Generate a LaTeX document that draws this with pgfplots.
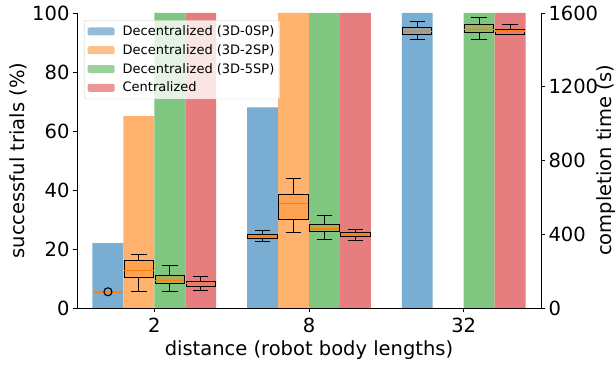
\documentclass[border=0pt]{standalone}
\usepackage{pgfplots}
\pgfplotsset{compat=1.18}
\usepackage{fontspec}
\setmainfont{DejaVu Sans}
\definecolor{tabBlue}{HTML}{1F77B4}
\definecolor{tabOrange}{HTML}{FF7F0E}
\definecolor{tabGreen}{HTML}{2CA02C}
\definecolor{tabRed}{HTML}{D62728}
% box plot: position, lower whisker, lower quartile, median, upper quartile, upper whisker
\newcommand\BP[6]{%
  \pgfmathsetmacro\bxl{#1-0.095}\pgfmathsetmacro\bxr{#1+0.095}%
  \pgfmathsetmacro\cpl{#1-0.05}\pgfmathsetmacro\cpr{#1+0.05}%
  \addplot[draw=black, line width=1pt, fill=tabOrange, fill opacity=0.3, line join=miter]
    coordinates {(\bxl,#3) (\bxr,#3) (\bxr,#5) (\bxl,#5) (\bxl,#3)};
  \addplot[black, line width=1pt] coordinates {(#1,#5) (#1,#6)};
  \addplot[black, line width=1pt] coordinates {(#1,#3) (#1,#2)};
  \addplot[black, line width=1pt] coordinates {(\cpl,#6) (\cpr,#6)};
  \addplot[black, line width=1pt] coordinates {(\cpl,#2) (\cpr,#2)};
  \addplot[tabOrange, line width=1.2pt] coordinates {(\bxl,#4) (\bxr,#4)};
}
\begin{document}
\begin{tikzpicture}
\pgfplotsset{
  common/.style={
    at={(0pt,0pt)}, anchor=south west, scale only axis,
    width=464pt, height=295pt,
    xmin=-0.5, xmax=2.5,
    tick align=outside, major tick length=4pt,
    tick style={black, line width=0.8pt},
    axis line style={-, line width=0.8pt, black},
    /pgf/number format/assume math mode=true,
    /pgf/number format/1000 sep={},
    tick label style={font=\fontsize{19.5}{21}\selectfont, black},
  },
}
\begin{axis}[common,
  ymin=0, ymax=100,
  axis x line*=bottom, axis y line*=left,
  xtick pos=bottom, ytick pos=left,
  xtick={0,1,2}, xticklabels={2,8,32},
  xticklabel style={yshift=-2pt},
  ytick={0,20,40,60,80,100},
  xlabel={distance (robot body lengths)},
  ylabel={successful trials (\%)},
  every axis x label/.style={at={(axis description cs:0.5,-0.1424)}, anchor=center, font=\fontsize{19.5}{21}\selectfont},
  every axis y label/.style={at={(axis description cs:-0.127,0.5)}, rotate=90, anchor=center, font=\fontsize{19.5}{21}\selectfont},
  legend style={at={(0.015,0.976)}, anchor=north west,
    font=\fontsize{13}{14.5}\selectfont, draw=black!20, fill=white,
    fill opacity=0.8, text opacity=1, rounded corners=2pt,
    row sep=3.4pt, inner sep=3.5pt,
    /tikz/every odd column/.append style={column sep=6pt}},
  legend cell align=left,
  legend image code/.code={\fill[#1] (0pt,-4pt) rectangle (27pt,4pt);},
]
\addplot[ybar, bar width=0.2, bar shift=0pt, fill=tabBlue!60!white, draw=none]
  coordinates {(-0.3,22) (0.7,68) (1.7,100)};
\addlegendentry{Decentralized (3D-0SP)}
\addplot[ybar, bar width=0.2, bar shift=0pt, fill=tabOrange!60!white, draw=none]
  coordinates {(-0.1,65) (0.9,100) (1.9,0)};
\addlegendentry{Decentralized (3D-2SP)}
\addplot[ybar, bar width=0.2, bar shift=0pt, fill=tabGreen!60!white, draw=none]
  coordinates {(0.1,100) (1.1,100) (2.1,100)};
\addlegendentry{Decentralized (3D-5SP)}
\addplot[ybar, bar width=0.2, bar shift=0pt, fill=tabRed!60!white, draw=none]
  coordinates {(0.3,100) (1.3,100) (2.3,100)};
\addlegendentry{Centralized}
\end{axis}
\begin{axis}[common,
  ymin=0, ymax=1600,
  axis x line=none, axis y line*=right,
  ytick pos=right,
  ytick={0,400,800,1200,1600},
  ylabel={completion time (s)},
  every axis y label/.style={at={(axis description cs:1.1401,0.5)}, rotate=90, anchor=center, font=\fontsize{19.5}{21}\selectfont},
]
% distance 2
\BP{-0.1}{88}{167}{202}{255}{291}
\BP{0.1}{92}{134}{148}{175}{232}
\BP{0.3}{94}{118}{132}{145}{172}
% distance 8
\BP{0.7}{363}{376}{389}{401}{419}
\BP{0.9}{410}{479}{566}{617}{701}
\BP{1.1}{369}{414}{428}{454}{499}
\BP{1.3}{365}{387}{396}{410}{428}
% distance 32
\BP{1.7}{1454}{1481}{1500}{1520}{1553}
\BP{2.1}{1454}{1495}{1512}{1539}{1575}
\BP{2.3}{1481}{1486}{1502}{1513}{1539}
% distance 2, 3D-0SP: all runs equal (median line), one outlier
\addplot[only marks, mark=-, mark size=14pt, mark options={draw=tabOrange, line width=1.5pt}] coordinates {(-0.3,88)};
\addplot[only marks, mark=o, mark size=4pt, mark options={draw=black, line width=1.1pt}] coordinates {(-0.3,88)};
\end{axis}
\pgfresetboundingbox
\path[use as bounding box] (-77pt,-58pt) rectangle (539pt,308pt);
\end{tikzpicture}
\end{document}
